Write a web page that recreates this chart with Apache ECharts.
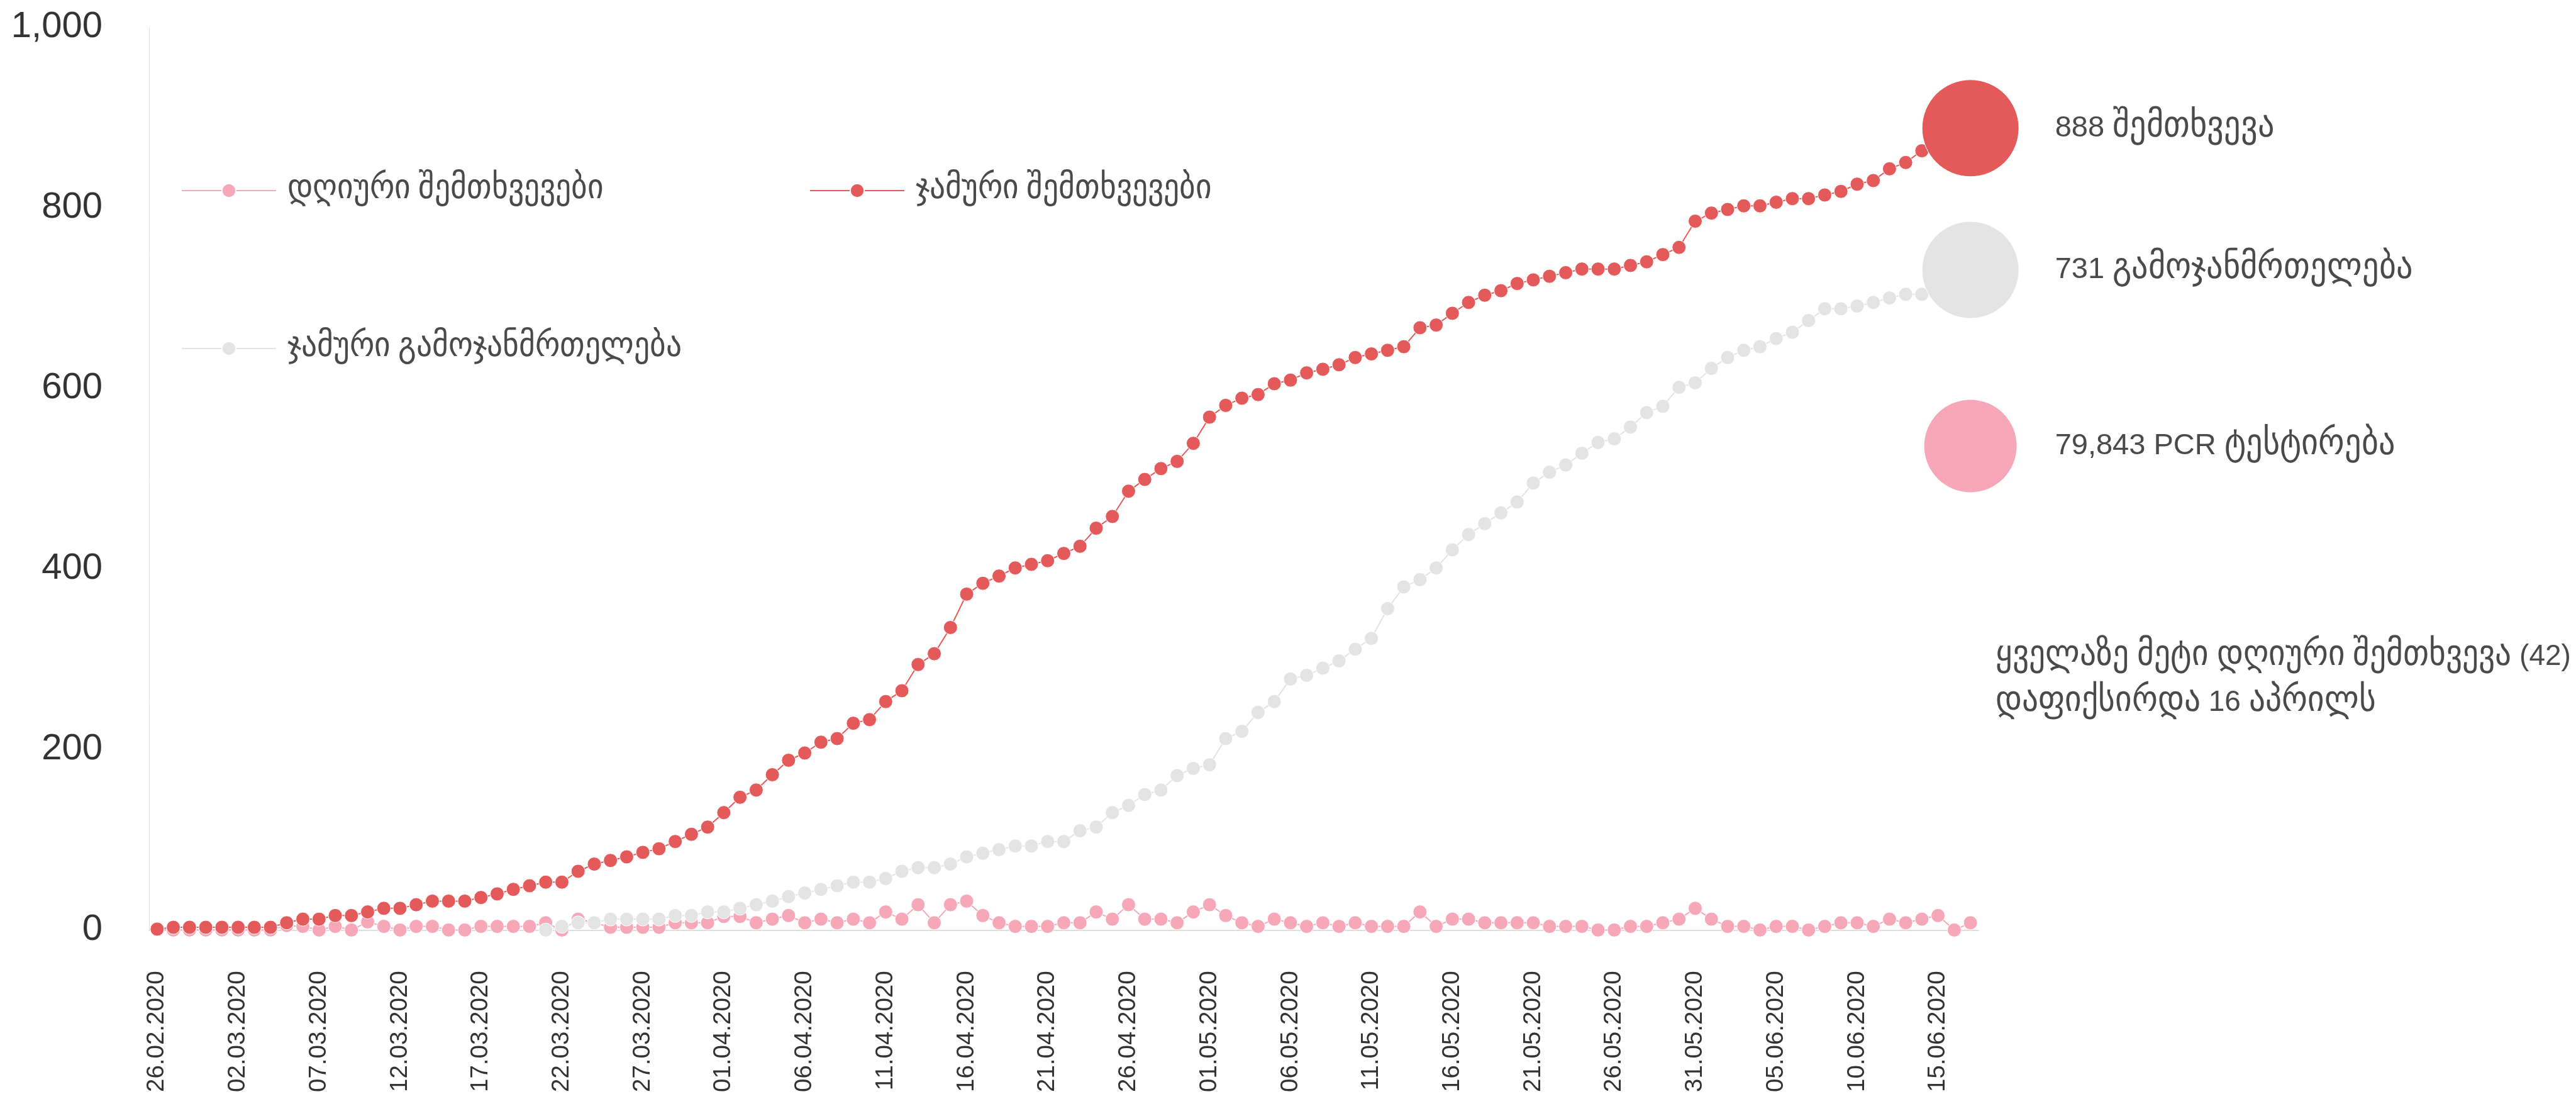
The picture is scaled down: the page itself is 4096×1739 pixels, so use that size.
<!DOCTYPE html>
<html>
<head>
<meta charset="utf-8">
<script src="https://cdn.jsdelivr.net/npm/echarts@6/dist/echarts.min.js"></script>
<style>
  /* Georgian glyphs come from DejaVu (condensed if it is there), a bit bigger than the Latin ones */
  @font-face {
    font-family: 'GeoText';
    src: local('DejaVu Sans Condensed'), local('DejaVuSansCondensed');
    unicode-range: U+10A0-10FF, U+1C90-1CBF, U+2D00-2D2F;
    size-adjust: 124%;
  }
  @font-face {
    font-family: 'GeoWide';
    src: local('DejaVu Sans'), local('DejaVuSans');
    unicode-range: U+10A0-10FF, U+1C90-1CBF, U+2D00-2D2F;
    size-adjust: 112%;
  }
  html, body { margin: 0; padding: 0; background: #fff; }
  #chart { width: 4096px; height: 1739px; }
</style>
</head>
<body>
<div id="chart"></div>
<script>
// values, one per day from 26.02.2020
var firstDay = [2020, 1, 26];

var dailyCases = [
  1, 0, 0, 0, 0, 0, 0, 0, 5, 4,
  0, 4, 0, 9, 4, 0, 4, 4, 0, 0,
  4, 4, 4, 4, 8, 0, 12, 8, 3, 3,
  3, 3, 8, 8, 8, 15, 15, 8, 12, 16,
  8, 12, 8, 12, 8, 20, 12, 28, 8, 28,
  32, 16, 8, 4, 4, 4, 8, 8, 20, 12,
  28, 12, 12, 8, 20, 28, 16, 8, 4, 12,
  8, 4, 8, 4, 8, 4, 4, 4, 20, 4,
  12, 12, 8, 8, 8, 8, 4, 4, 4, 0,
  0, 4, 4, 8, 12, 24, 12, 4, 4, 0,
  4, 4, 0, 4, 8, 8, 4, 12, 8, 12,
  16, 0, 8
];

var totalCases = [
  1, 3, 3, 3, 3, 3, 3, 3, 8, 12,
  12, 16, 16, 20, 24, 24, 28, 32, 32, 32,
  36, 40, 45, 49, 53, 53, 65, 73, 77, 81,
  86, 90, 98, 106, 114, 130, 147, 155, 172, 188,
  196, 208, 212, 229, 233, 253, 265, 294, 306, 335,
  372, 384, 392, 401, 405, 409, 417, 425, 445, 458,
  486, 499, 511, 519, 539, 568, 581, 589, 593, 605,
  609, 617, 621, 626, 634, 638, 642, 646, 667, 670,
  683, 695, 703, 708, 716, 720, 724, 728, 732, 732,
  732, 736, 740, 748, 756, 785, 794, 798, 802, 802,
  806, 810, 810, 814, 818, 826, 830, 843, 850, 863,
  879, 880, 888
];

// nothing drawn before 21.03
var totalRecovered = [
  null, null, null, null, null, null, null, null, null, null,
  null, null, null, null, null, null, null, null, null, null,
  null, null, null, null, 0, 4, 8, 8, 12, 12,
  12, 12, 16, 16, 20, 20, 24, 28, 32, 37,
  41, 45, 49, 53, 53, 57, 65, 69, 69, 73,
  81, 85, 89, 93, 93, 98, 98, 110, 114, 130,
  138, 150, 155, 171, 179, 183, 212, 220, 241, 253,
  278, 282, 290, 298, 311, 323, 356, 380, 388, 401,
  421, 438, 450, 462, 474, 495, 507, 515, 528, 540,
  544, 557, 573, 580, 601, 606, 622, 634, 642, 646,
  655, 662, 675, 688, 688, 691, 695, 700, 704, 704,
  712, 720, 731
];

var pcrTests = 79843;
var pcrBubbleLevel = 536;   // height of the PCR bubble on the y scale

var yMin = 0, yMax = 1000, yStep = 200;

var seriesNames = ['დღიური შემთხვევები', 'ჯამური შემთხვევები', 'ჯამური გამოჯანმრთელება'];
var note = 'ყველაზე მეტი დღიური შემთხვევა (42)\nდაფიქსირდა 16 აპრილს';

// category labels dd.mm.yyyy
function pad(n) { return n < 10 ? '0' + n : '' + n; }
var dates = [];
for (var i = 0; i < totalCases.length; i++) {
  var d = new Date(Date.UTC(firstDay[0], firstDay[1], firstDay[2] + i));
  dates.push(pad(d.getUTCDate()) + '.' + pad(d.getUTCMonth() + 1) + '.' + d.getUTCFullYear());
}
var last = dates.length - 1;

var RED = '#e45a5a', PINK = '#f6a8b8', GREY = '#e4e4e4';
var TXT = '#4a4a4a';
var FONT = "'Liberation Sans', 'GeoText', 'GeoWide', 'DejaVu Sans', sans-serif";

// last point of a cumulative line becomes the big bubble with its caption
function withBubble(values, caption) {
  return values.map(function (v, i) {
    if (i !== last) return v;
    return {
      value: v,
      symbolSize: 154,
      label: { show: true, position: 'right', distance: 57, formatter: caption }
    };
  });
}

function lineSeries(name, color, data, z) {
  return {
    name: name,
    type: 'line',
    data: data,
    color: color,
    z: z,
    symbol: 'circle',
    symbolSize: 22,
    showAllSymbol: true,
    lineStyle: { width: 2, color: color },
    itemStyle: { color: color, borderColor: '#fff', borderWidth: 1 },
    label: { show: false, fontSize: 47, color: TXT, fontFamily: FONT },
    emphasis: { disabled: true }
  };
}

var legendText = { fontSize: 44, color: TXT, fontFamily: FONT, padding: [0, 0, 0, 13] };
function legendAt(name, left, top) {
  return {
    data: [name], left: left, top: top,
    itemWidth: 150, itemHeight: 28,
    textStyle: legendText
  };
}

var option = {
  animation: false,
  textStyle: { fontFamily: FONT },
  grid: { left: 237, right: 950, top: 43, bottom: 257, containLabel: false },
  legend: [
    legendAt(seriesNames[0], 283, 276),
    legendAt(seriesNames[1], 1282, 276),
    legendAt(seriesNames[2], 283, 527)
  ],
  xAxis: {
    type: 'category',
    data: dates,
    boundaryGap: true,
    axisLine: { lineStyle: { color: '#dedede', width: 2 } },
    axisTick: { show: false },
    axisLabel: {
      rotate: 90, interval: 4, margin: 65,
      fontSize: 38.5, color: '#333', fontFamily: FONT
    },
    splitLine: { show: false }
  },
  yAxis: {
    type: 'value',
    min: yMin, max: yMax, interval: yStep,
    axisLine: { show: true, lineStyle: { color: '#e2e2e2', width: 1 } },
    axisTick: { show: false },
    splitLine: { show: false },
    axisLabel: { fontSize: 58, color: '#333', margin: 74, fontFamily: FONT }
  },
  series: [
    lineSeries(seriesNames[0], PINK, dailyCases, 2),
    lineSeries(seriesNames[1], RED, withBubble(totalCases, totalCases[last] + ' შემთხვევა'), 3),
    lineSeries(seriesNames[2], GREY, withBubble(totalRecovered, totalRecovered[last] + ' გამოჯანმრთელება'), 4),
    {
      name: 'PCR',
      type: 'scatter',
      data: [[dates[last], pcrBubbleLevel]],
      symbolSize: 147,
      color: PINK,
      itemStyle: { color: PINK, opacity: 1 },
      label: {
        show: true, position: 'right', distance: 61,
        formatter: pcrTests.toLocaleString('en-US') + ' PCR ტესტირება',
        fontSize: 47, color: TXT, opacity: 1, fontFamily: FONT
      },
      emphasis: { disabled: true },
      z: 5
    }
  ],
  graphic: [{
    type: 'text',
    left: 3173,
    top: 1008,
    style: { text: note, fontSize: 46, lineHeight: 73, fill: TXT, fontFamily: FONT }
  }]
};

function draw() {
  var chart = echarts.init(document.getElementById('chart'));
  chart.setOption(option);
}

// wait for the Georgian faces so the canvas measures them right
Promise.all([
  document.fonts.load('44px GeoText', 'ა'),
  document.fonts.load('44px GeoWide', 'ა')
]).then(draw, draw);
</script>
</body>
</html>
